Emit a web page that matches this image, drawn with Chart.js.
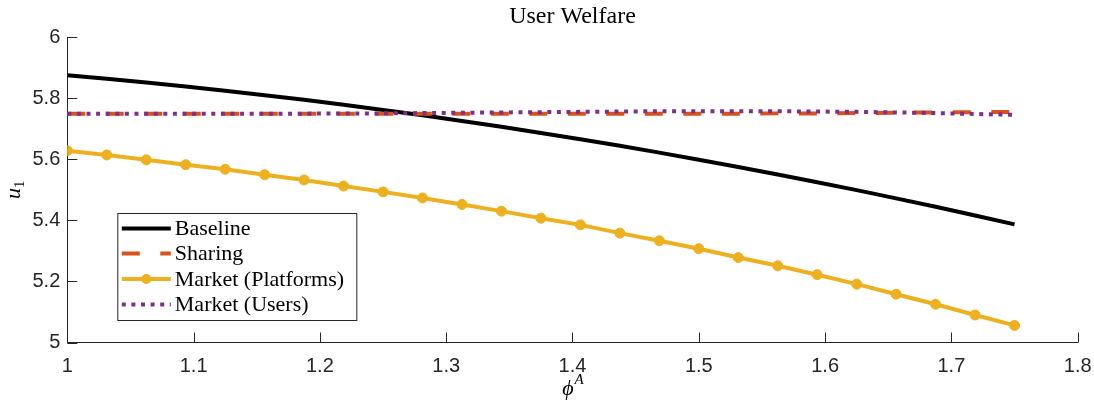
<!DOCTYPE html>
<html>
<head>
<meta charset="utf-8">
<script src="https://cdn.jsdelivr.net/npm/chart.js@4.4.1/dist/chart.umd.min.js"></script>
<style>
  html, body { margin: 0; padding: 0; background: #ffffff; }
  #wrap { width: 1094px; height: 402px; }
</style>
</head>
<body>
<div id="wrap"><canvas id="c" width="1094" height="402"></canvas></div>
<script>
// Platform-A productivity parameter phi^A
const phiA = [1, 1.03125, 1.0625, 1.09375, 1.125, 1.15625, 1.1875, 1.21875, 1.25,
  1.28125, 1.3125, 1.34375, 1.375, 1.40625, 1.4375, 1.46875, 1.5, 1.53125,
  1.5625, 1.59375, 1.625, 1.65625, 1.6875, 1.71875, 1.75];

// User welfare u_1 under each regime
const baseline = [5.875, 5.8635, 5.8512, 5.8381, 5.8242, 5.8096, 5.7943, 5.7781, 5.7612,
  5.7436, 5.7251, 5.7060, 5.6860, 5.6653, 5.6438, 5.6215, 5.5985, 5.5747,
  5.5502, 5.5248, 5.4987, 5.4719, 5.4443, 5.4159, 5.3867];
const sharing = [5.749, 5.749, 5.749, 5.749, 5.749, 5.749, 5.749, 5.749, 5.749,
  5.749, 5.749, 5.749, 5.749, 5.749, 5.749, 5.749, 5.749, 5.749,
  5.750, 5.750, 5.751, 5.752, 5.753, 5.754, 5.755];
const marketPlatforms = [5.628, 5.614, 5.598, 5.582, 5.567, 5.549, 5.532, 5.512, 5.493,
  5.473, 5.452, 5.430, 5.407, 5.385, 5.358, 5.333, 5.307, 5.278,
  5.251, 5.222, 5.191, 5.158, 5.125, 5.090, 5.056];
const marketUsers = [5.749, 5.749, 5.749, 5.749, 5.749, 5.749, 5.749, 5.750, 5.750,
  5.751, 5.752, 5.753, 5.754, 5.755, 5.756, 5.757, 5.757, 5.757,
  5.757, 5.756, 5.755, 5.753, 5.751, 5.748, 5.745];

const seriesNames = ['Baseline', 'Sharing', 'Market (Platforms)', 'Market (Users)'];

// Axis ticks
const xTickValues = [1, 1.1, 1.2, 1.3, 1.4, 1.5, 1.6, 1.7, 1.8];
const xTickLabels = ['1', '1.1', '1.2', '1.3', '1.4', '1.5', '1.6', '1.7', '1.8'];
const yTickValues = [5, 5.2, 5.4, 5.6, 5.8, 6];
const yTickLabels = ['5', '5.2', '5.4', '5.6', '5.8', '6'];

const AXIS_COLOR = '#262626';
const SERIF = '"Liberation Serif", "DejaVu Serif", serif';
const SANS = '"Liberation Sans", Arial, sans-serif';

const toPoints = vals => phiA.map((x, i) => ({ x: x, y: vals[i] }));

// Inward tick marks, title, axis labels and the boxed legend
const decorations = {
  id: 'decorations',
  afterDraw(chart) {
    const ctx = chart.ctx;
    const area = chart.chartArea;
    const xs = chart.scales.x, ys = chart.scales.y;
    ctx.save();

    // inward ticks
    ctx.strokeStyle = AXIS_COLOR;
    ctx.lineWidth = 1;
    ctx.setLineDash([]);
    ctx.beginPath();
    xTickValues.forEach(v => {
      const px = Math.round(xs.getPixelForValue(v)) + 0.5;
      ctx.moveTo(px, area.bottom);
      ctx.lineTo(px, area.bottom - 10);
    });
    yTickValues.forEach(v => {
      const py = Math.round(ys.getPixelForValue(v)) + 0.5;
      ctx.moveTo(area.left, py);
      ctx.lineTo(area.left + 10, py);
    });
    ctx.stroke();

    // title
    ctx.fillStyle = '#000000';
    ctx.font = '24px ' + SERIF;
    ctx.textAlign = 'center';
    ctx.textBaseline = 'middle';
    ctx.fillText('User Welfare', (area.left + area.right) / 2, 17);

    // x-axis label: phi^A
    const cx = (area.left + area.right) / 2;
    ctx.font = 'italic 22px ' + SERIF;
    ctx.textAlign = 'left';
    ctx.textBaseline = 'alphabetic';
    const phiW = ctx.measureText('\u03D5').width;
    ctx.font = 'italic 15px ' + SERIF;
    const aW = ctx.measureText('A').width;
    const startX = cx - (phiW + aW) / 2;
    ctx.font = 'italic 22px ' + SERIF;
    ctx.fillText('\u03D5', startX, 395);
    ctx.font = 'italic 15px ' + SERIF;
    ctx.fillText('A', startX + phiW + 1, 384);

    // y-axis label: u_1
    ctx.save();
    ctx.translate(20, (area.top + area.bottom) / 2);
    ctx.rotate(-Math.PI / 2);
    ctx.font = 'italic 22px ' + SERIF;
    const uW = ctx.measureText('u').width;
    ctx.font = '15px ' + SERIF;
    const oneW = ctx.measureText('1').width;
    const sx = -(uW + oneW) / 2;
    ctx.font = 'italic 22px ' + SERIF;
    ctx.fillText('u', sx, 0);
    ctx.font = '15px ' + SERIF;
    ctx.fillText('1', sx + uW, 4);
    ctx.restore();

    // legend box
    const lx = area.left + 50.5, ly = 213.5, lw = 239, lh = 107;
    ctx.fillStyle = '#ffffff';
    ctx.fillRect(lx, ly, lw, lh);
    ctx.strokeStyle = AXIS_COLOR;
    ctx.lineWidth = 1;
    ctx.strokeRect(lx, ly, lw, lh);

    const rowY = [228.5, 253.5, 279, 304.5];
    chart.data.datasets.forEach((ds, i) => {
      const y = rowY[i];
      ctx.save();
      ctx.strokeStyle = ds.borderColor;
      ctx.lineWidth = ds.borderWidth;
      ctx.lineCap = 'butt';
      ctx.setLineDash(ds.borderDash || []);
      ctx.beginPath();
      ctx.moveTo(lx + 4, y);
      ctx.lineTo(lx + 53, y);
      ctx.stroke();
      if (ds.pointRadius > 0) {
        ctx.setLineDash([]);
        ctx.fillStyle = ds.pointBackgroundColor;
        ctx.beginPath();
        ctx.arc(lx + 28.5, y, ds.pointRadius, 0, Math.PI * 2);
        ctx.fill();
      }
      ctx.restore();
      ctx.fillStyle = '#000000';
      ctx.font = '22px ' + SERIF;
      ctx.textAlign = 'left';
      ctx.textBaseline = 'middle';
      ctx.fillText(ds.label, lx + 57, y + 1);
    });

    ctx.restore();
  }
};

new Chart(document.getElementById('c'), {
  type: 'line',
  data: {
    datasets: [
      {
        label: seriesNames[0], data: toPoints(baseline),
        borderColor: '#000000', borderWidth: 4, pointRadius: 0, order: 3
      },
      {
        label: seriesNames[1], data: toPoints(sharing),
        borderColor: '#D95319', borderWidth: 4, borderDash: [18, 20.5],
        pointRadius: 0, order: 2
      },
      {
        label: seriesNames[2], data: toPoints(marketPlatforms),
        borderColor: '#EDB120', borderWidth: 4,
        pointRadius: 5, pointBackgroundColor: '#EDB120', pointBorderColor: '#EDB120',
        pointBorderWidth: 1, pointStyle: 'circle', order: 1
      },
      {
        label: seriesNames[3], data: toPoints(marketUsers),
        borderColor: '#7E2F8E', borderWidth: 4, borderDash: [4, 5.6],
        pointRadius: 0, order: 0
      }
    ]
  },
  options: {
    responsive: false,
    devicePixelRatio: 1,
    animation: false,
    events: [],
    layout: { padding: { top: 37, right: 16.3, bottom: 0, left: 0 } },
    plugins: {
      legend: { display: false },
      title: { display: false },
      tooltip: { enabled: false }
    },
    elements: { line: { tension: 0, borderCapStyle: 'butt', borderJoinStyle: 'round' } },
    scales: {
      x: {
        type: 'linear', min: 1, max: 1.8,
        afterBuildTicks: s => { s.ticks = xTickValues.map(v => ({ value: v })); },
        afterFit: s => { s.height = 59.5; s.paddingLeft = 0; s.paddingRight = 0; },
        ticks: {
          callback: (v, i) => xTickLabels[i],
          font: { family: SANS, size: 20 }, color: AXIS_COLOR, padding: 12,
          maxRotation: 0, autoSkip: false
        },
        grid: { display: false, drawTicks: false },
        border: { display: true, color: AXIS_COLOR, width: 1 }
      },
      y: {
        type: 'linear', min: 5, max: 6,
        afterBuildTicks: s => { s.ticks = yTickValues.map(v => ({ value: v })); },
        afterFit: s => { s.width = 67.3; s.paddingTop = 0; s.paddingBottom = 0; },
        ticks: {
          callback: (v, i) => yTickLabels[i],
          font: { family: SANS, size: 20 }, color: AXIS_COLOR, padding: 7,
          autoSkip: false
        },
        grid: { display: false, drawTicks: false },
        border: { display: true, color: AXIS_COLOR, width: 1 }
      }
    }
  },
  plugins: [decorations]
});
</script>
</body>
</html>
